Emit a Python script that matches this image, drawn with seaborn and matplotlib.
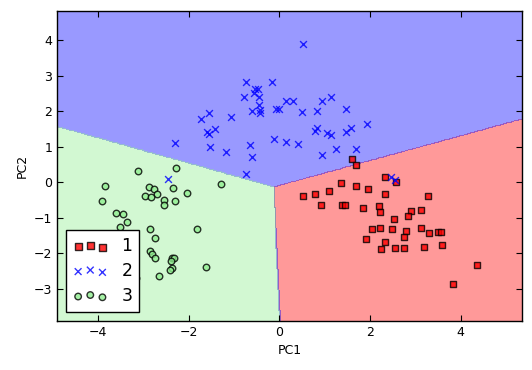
import numpy as np
import pandas as pd
import matplotlib
matplotlib.use("Agg")
import matplotlib.pyplot as plt
from matplotlib.colors import ListedColormap
import seaborn as sns

# ---- data ----
class1_x = [1.61, 1.70, 2.32, 2.58, 1.37, 1.68, 1.96, 2.32, 3.29, 0.53, 0.79, 1.10, 0.91,
            1.38, 1.44, 1.85, 2.19, 2.21, 2.91, 3.13, 2.83, 2.52, 2.05, 2.23, 2.49, 2.80,
            3.13, 3.31, 3.50, 3.56, 2.76, 1.92, 2.34, 2.25, 2.54, 2.76, 3.20, 3.58, 4.37, 3.82]
class1_y = [0.65, 0.48, 0.14, 0.00, -0.03, -0.11, -0.20, -0.34, -0.39, -0.39, -0.34, -0.25, -0.65,
            -0.65, -0.65, -0.73, -0.68, -0.85, -0.82, -0.79, -0.96, -1.04, -1.32, -1.30, -1.32, -1.38,
            -1.30, -1.44, -1.41, -1.41, -1.55, -1.61, -1.69, -1.89, -1.86, -1.86, -1.83, -1.77, -2.34, -2.87]

class2_x = [0.53, -0.735, -0.16, -0.53, -0.47, -0.56, -0.77, -0.44, -0.46, -0.60, -0.42, -0.42,
            -0.07, -0.01, 0.15, 0.30, 0.51, 0.84, 0.93, 1.13, 1.46, 1.94, 1.58, 1.48, 0.84, 0.79,
            1.04, 1.13, 1.24, 1.70, 0.93, 0.42, 0.15, -0.11, -0.64, -0.60, -1.17, -1.52, -2.30,
            -1.06, -1.55, -1.74, -1.42, -1.59, -1.56, -0.735, -2.46, 2.47, 2.55]
class2_y = [3.89, 2.82, 2.82, 2.62, 2.62, 2.52, 2.39, 2.39, 2.18, 2.02, 2.04, 1.94,
            2.06, 2.06, 2.28, 2.28, 1.97, 2.01, 2.29, 2.39, 2.06, 1.63, 1.52, 1.41, 1.54, 1.45,
            1.38, 1.34, 0.93, 0.93, 0.76, 1.07, 1.13, 1.21, 1.04, 0.71, 0.85, 0.99, 1.10,
            1.83, 1.94, 1.77, 1.49, 1.41, 1.37, 0.23, 0.08, 0.16, 0.05]

class3_x = [-3.13, -2.29, -3.84, -1.28, -2.87, -2.76, -2.34, -2.69, -2.96, -2.84, -2.04, -3.91,
            -2.54, -2.30, -2.54, -3.60, -3.44, -3.36, -3.51, -2.85, -1.81, -2.74, -2.85, -2.82,
            -2.74, -2.38, -2.32, -2.40, -1.61, -2.37, -2.41, -2.65, -3.17]
class3_y = [0.31, 0.39, -0.10, -0.05, -0.14, -0.20, -0.17, -0.34, -0.39, -0.42, -0.31, -0.53,
            -0.50, -0.54, -0.64, -0.86, -0.90, -1.13, -1.27, -1.32, -1.32, -1.58, -1.94, -2.01,
            -2.14, -2.14, -2.14, -2.22, -2.39, -2.42, -2.48, -2.65, -2.70]

class_labels = ["1", "2", "3"]

# linear decision functions (one row per class) estimated from the region boundaries
clf_weights = [[0.6964, 0.0240], [0.3556, 1.0], [0.0, 0.0]]
clf_bias = [0.0867, 0.1727, 0.0]

x_lim = (-4.90, 5.36)
y_lim = (-3.90, 4.83)

# ---- figure ----
plt.rcParams["font.family"] = ["DejaVu Sans"]
fig = plt.figure(figsize=(5.32, 3.70), dpi=100)
ax = fig.add_axes([0.1077, 0.1332, 0.9818 - 0.1077, 0.971 - 0.1332])

colors = ["red", "blue", "lightgreen"]
markers = ["s", "x", "o"]
cmap = ListedColormap(colors)

res = 0.02
xx1, xx2 = np.meshgrid(np.arange(x_lim[0], x_lim[1] + res, res),
                       np.arange(y_lim[0], y_lim[1] + res, res))
W = np.array(clf_weights)
b = np.array(clf_bias)
scores = (np.stack([xx1.ravel(), xx2.ravel()], axis=1) @ W.T) + b
Z = scores.argmax(axis=1).reshape(xx1.shape)
ax.contourf(xx1, xx2, Z, levels=[-0.5, 0.5, 1.5, 2.5], alpha=0.4, cmap=cmap)

frames = []
for lab, xs, ys in zip(class_labels, [class1_x, class2_x, class3_x], [class1_y, class2_y, class3_y]):
    frames.append(pd.DataFrame({"PC1": xs, "PC2": ys, "cls": lab}))
df = pd.concat(frames, ignore_index=True)

sizes = [24, 24, 22]
for i, lab in enumerate(class_labels):
    sub = df[df["cls"] == lab]
    kw = dict(edgecolor="black", linewidth=1.0)
    if markers[i] == "x":
        kw = dict(linewidth=1.0)
    sns.scatterplot(data=sub, x="PC1", y="PC2", ax=ax, color=colors[i],
                    marker=markers[i], s=sizes[i], alpha=0.8, label=lab, legend=False, **kw)

ax.set_xlim(*x_lim)
ax.set_ylim(*y_lim)
ax.set_xticks([-4, -2, 0, 2, 4])
ax.set_yticks([-3, -2, -1, 0, 1, 2, 3, 4])
ax.set_xlabel("PC1", fontsize=9)
ax.set_ylabel("PC2", fontsize=9)
ax.tick_params(direction="in", top=True, right=True, labelsize=9, length=4, width=0.8)
for sp in ax.spines.values():
    sp.set_linewidth(1.0)
    sp.set_color("black")

leg = ax.legend(loc="lower left", scatterpoints=3, scatteryoffsets=[0.375, 0.5, 0.3125],
                fontsize=12.5, fancybox=False, framealpha=1.0, edgecolor="black",
                borderaxespad=0.5, handletextpad=0.8, labelspacing=0.4)
leg.get_frame().set_linewidth(1.0)

fig.savefig("out.png", dpi=100)
